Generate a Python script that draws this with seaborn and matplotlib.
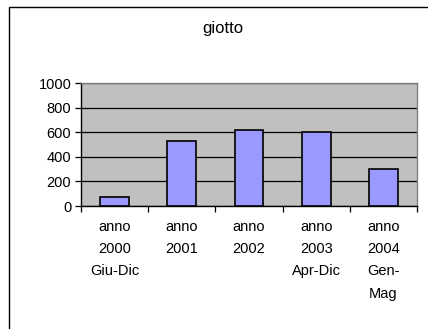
import matplotlib
matplotlib.use("Agg")
import matplotlib.pyplot as plt
from matplotlib.patches import Rectangle
import seaborn as sns
import pandas as pd

categories = ["anno\n2000\nGiu-Dic", "anno\n2001", "anno\n2002", "anno\n2003\nApr-Dic", "anno\n2004\nGen-\nMag"]
values = [70, 525, 620, 605, 300]
yticks = [0, 200, 400, 600, 800, 1000]
title = "giotto"

sns.set_theme(style="white")
plt.rcParams["font.family"] = ["Liberation Sans", "DejaVu Sans"]
plt.rcParams["text.color"] = "black"
plt.rcParams["xtick.color"] = "black"
plt.rcParams["ytick.color"] = "black"

df = pd.DataFrame({"periodo": categories, "valore": values})

fig = plt.figure(figsize=(4.28, 3.29), dpi=100)
fig.patch.set_facecolor("white")
# outer chart frame
fig.patches.append(Rectangle((9 / 428, -0.05), 1.2, 1 - 7 / 329 + 0.05,
                             transform=fig.transFigure, fill=False,
                             edgecolor="black", linewidth=1.0))

ax = fig.add_axes([81 / 428, 1 - 206 / 329, (417 - 81) / 428, (206 - 83) / 329])
ax.set_facecolor("#C0C0C0")

sns.barplot(data=df, x="periodo", y="valore", ax=ax, color="#9999FF",
            saturation=1, edgecolor="black", linewidth=1.2, width=0.43, zorder=3)

ax.set_ylim(0, 1000)
ax.set_xlim(-0.5, len(categories) - 0.5)
ax.set_yticks(yticks)
ax.set_yticklabels([str(v) for v in yticks], fontsize=10.5)
ax.yaxis.grid(True, color="black", linewidth=0.9)
ax.set_axisbelow(True)

# category boundary ticks on the x axis
ax.set_xticks([i - 0.5 for i in range(len(categories) + 1)], minor=False)
ax.set_xticklabels([])
ax.set_xticks(range(len(categories)), minor=True)
ax.set_xticklabels(categories, minor=True, fontsize=10.5, linespacing=1.75, va="top")
ax.tick_params(axis="x", which="major", direction="out", length=4, width=0.9,
               color="black", bottom=True)
ax.tick_params(axis="x", which="minor", length=0, pad=10)
ax.tick_params(axis="y", direction="out", length=4, width=0.9, color="black",
               left=True, pad=3)
ax.set_xlabel("")
ax.set_ylabel("")

for side in ["top", "right"]:
    ax.spines[side].set_color("#808080")
    ax.spines[side].set_linewidth(1.0)
for side in ["left", "bottom"]:
    ax.spines[side].set_color("black")
    ax.spines[side].set_linewidth(1.0)

fig.text(223 / 428, 1 - 28 / 329, title, ha="center", va="center", fontsize=12)

fig.savefig("out.png", dpi=100, facecolor="white")
